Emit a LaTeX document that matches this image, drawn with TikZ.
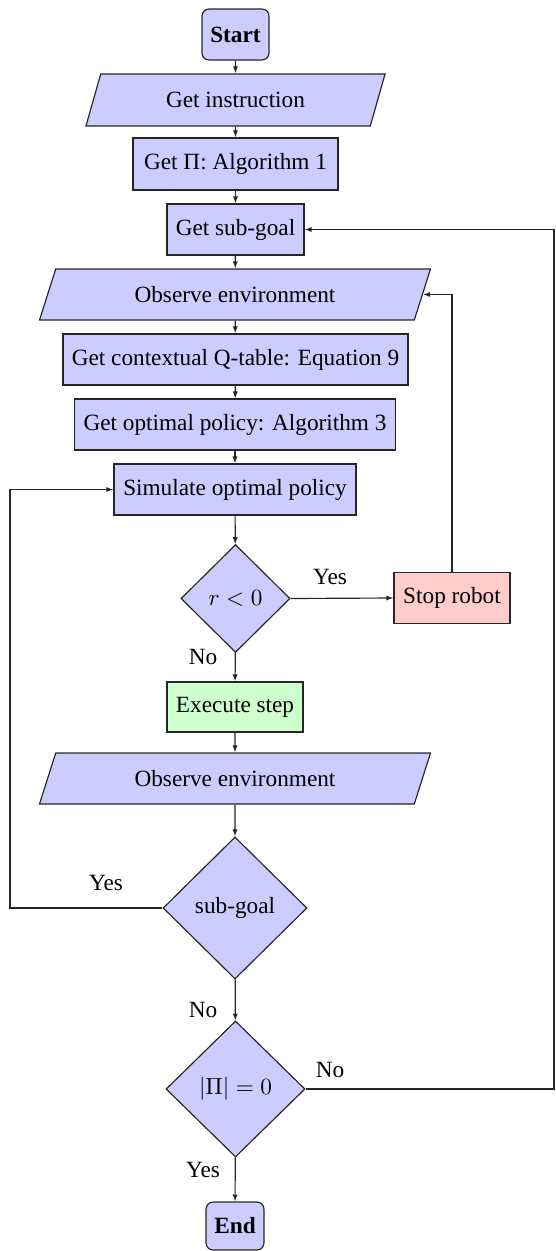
\documentclass[tikz,border=0pt]{standalone}
\usepackage{fontspec}
\setmainfont{Liberation Serif}
\usetikzlibrary{shapes.geometric,arrows.meta}
\definecolor{boxblue}{RGB}{204,204,255}
\definecolor{boxred}{RGB}{255,204,204}
\definecolor{boxgreen}{RGB}{204,255,204}
\tikzset{
  base/.style={draw=black!85, line width=0.5pt, inner sep=0pt, font=\fontsize{10}{12}\selectfont},
  procbox/.style={base, rectangle, fill=boxblue},
  termbox/.style={base, rectangle, rounded corners=3pt, fill=boxblue, font=\fontsize{10}{12}\selectfont\bfseries},
  iobox/.style={base, trapezium, trapezium stretches=true, fill=boxblue},
  decbox/.style={base, diamond, fill=boxblue},
  lbl/.style={inner sep=0pt, font=\fontsize{10}{12}\selectfont},
  conn/.style={draw=black!85, line width=0.5pt, -{Latex[length=3pt,width=2.2pt]}},
  line/.style={draw=black!85, line width=0.5pt}
}
\begin{document}
\begin{tikzpicture}[x=0.43pt, y=-0.43pt]
\useasboundingbox (0,0) rectangle (556,1251);
\node[termbox, minimum width=28.8pt, minimum height=21.9pt] (start) at (235.5,34.5) {Start};
\node[iobox, trapezium left angle=64, trapezium right angle=116, minimum width=129.4pt, minimum height=22.4pt] (instr) at (235.5,100) {Get instruction};
\node[procbox, minimum width=88.2pt, minimum height=22.4pt] (pi) at (235.5,164) {Get Π: Algorithm 1};
\node[procbox, minimum width=58.9pt, minimum height=21.9pt] (sub) at (235.5,229.5) {Get sub-goal};
\node[iobox, trapezium left angle=61, trapezium right angle=119, minimum width=168.6pt, minimum height=21.9pt] (obs1) at (235,294.5) {Observe environment};
\node[procbox, minimum width=148.4pt, minimum height=21.9pt] (ctx) at (235.5,359.5) {Get contextual Q-table: Equation 9};
\node[procbox, minimum width=138.2pt, minimum height=21.9pt] (opt) at (235,424.5) {Get optimal policy: Algorithm 3};
\node[procbox, minimum width=104.1pt, minimum height=21.9pt] (sim) at (235,489.5) {Simulate optimal policy};
\node[decbox, minimum width=46.9pt, minimum height=46.4pt] (rdec) at (235.5,598.5) {$r<0$};
\node[base, rectangle, fill=boxred, minimum width=49.9pt, minimum height=21.9pt] (stop) at (452,598) {Stop robot};
\node[base, rectangle, fill=boxgreen, minimum width=58.5pt, minimum height=21.5pt] (exec) at (235,707) {Execute step};
\node[iobox, trapezium left angle=61, trapezium right angle=119, minimum width=168.6pt, minimum height=21.9pt] (obs2) at (235,778.5) {Observe environment};
\node[decbox, minimum width=61.9pt, minimum height=61.1pt] (sgdec) at (235,908) {sub-goal};
\node[decbox, minimum width=59.8pt, minimum height=58.5pt] (pidec) at (235.5,1089) {$|\Pi|=0$};
\node[termbox, minimum width=24.9pt, minimum height=20.6pt] (end) at (235,1226) {End};
\coordinate (L) at (10,908);
\coordinate (R) at (554,1089);
% labels
\node[lbl] (l1) at (330,577) {Yes};
\node[lbl] (l2) at (203,657) {No};
\node[lbl] (l3) at (106,883) {Yes};
\node[lbl] (l4) at (203,1010) {No};
\node[lbl] (l5) at (330,1070) {No};
\node[lbl] (l6) at (203,1170) {Yes};
% connectors
\draw[conn] (start) -- (instr);
\draw[conn] (instr) -- (pi);
\draw[conn] (pi) -- (sub);
\draw[conn] (sub) -- (obs1);
\draw[conn] (obs1) -- (ctx);
\draw[conn] (ctx) -- (opt);
\draw[conn] (opt) -- (sim);
\draw[conn] (sim) -- (rdec);
\draw[conn] (rdec) -- (exec);
\draw[conn] (exec) -- (obs2);
\draw[conn] (obs2) -- (sgdec);
\draw[conn] (sgdec) -- (pidec);
\draw[conn] (pidec) -- (end);
\draw[conn] (rdec.east) -- (stop.west);
\draw[conn] (stop.north) |- (obs1.east);
\draw[conn] (sgdec.west) -- (L) |- (sim.west);
\draw[conn] (pidec.east) -- (R) |- (sub.east);
\end{tikzpicture}
\end{document}
